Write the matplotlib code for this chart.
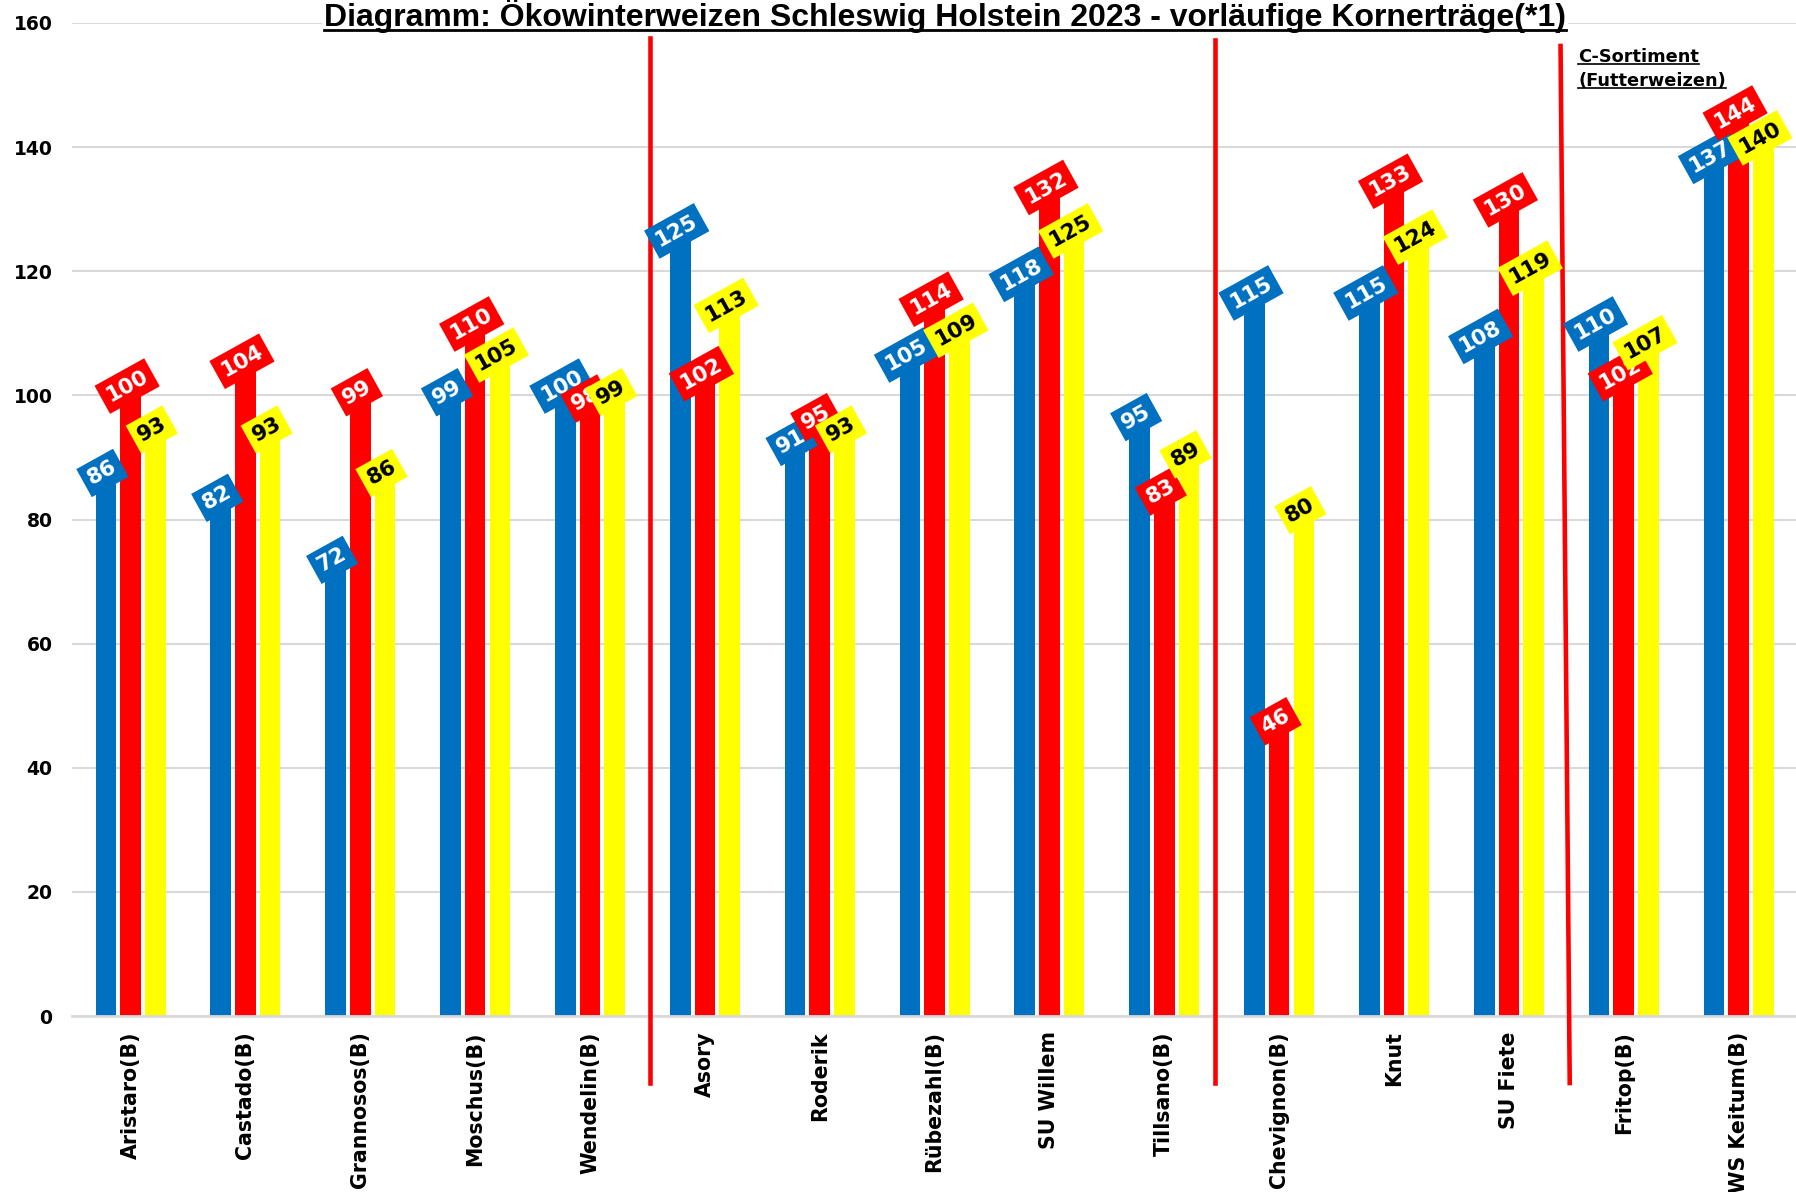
"""Öko-Winterweizen Schleswig-Holstein 2023: vorläufige Kornerträge als Gruppenbalken."""

import matplotlib

matplotlib.use("Agg")
import matplotlib.pyplot as plt
import numpy as np
from matplotlib.lines import Line2D

SORTEN = [
    "Aristaro(B)",
    "Castado(B)",
    "Grannosos(B)",
    "Moschus(B)",
    "Wendelin(B)",
    "Asory",
    "Roderik",
    "Rübezahl(B)",
    "SU Willem",
    "Tillsano(B)",
    "Chevignon(B)",
    "Knut",
    "SU Fiete",
    "Fritop(B)",
    "KWS Keitum(B)",
]
ERTRAG_BLAU = [86, 82, 72, 99, 100, 125, 91, 105, 118, 95, 115, 115, 108, 110, 137]
ERTRAG_ROT = [100, 104, 99, 110, 98, 102, 95, 114, 132, 83, 46, 133, 130, 102, 144]
ERTRAG_GELB = [93, 93, 86, 105, 99, 113, 93, 109, 125, 89, 80, 124, 119, 107, 140]
GRUPPEN_GRENZEN = [4, 9, 12]  # Trennlinie nach diesem Index
Y_TICKS = [0, 20, 40, 60, 80, 100, 120, 140, 160]

TITEL = "Diagramm: Ökowinterweizen Schleswig Holstein 2023 - vorläufige Kornerträge(*1)"
HINWEIS = ["C-Sortiment", "(Futterweizen)"]

BLAU = "#0070C0"
ROT = "#FF0000"
GELB = "#FFFF00"
GRID_COLOR = "#D9D9D9"
FONT = "DejaVu Sans"
BAR_WIDTH = 0.18
BAR_STEP = 0.215
LABEL_ANGLE = 29
# hand-drawn separators are slightly off-centre / tilted in the original
LINIEN_VERSATZ = [(0.02, 0.02, 157.6), (-0.06, -0.06, 157.2), (-0.05, 0.03, 156.3)]

fig = plt.figure(figsize=(17.96, 11.92), dpi=100)
ax = fig.add_axes([72 / 1796, 1 - 1016 / 1192, 1 - 72 / 1796, (1016 - 23) / 1192])

x = np.arange(len(SORTEN))
serien = [
    (ERTRAG_BLAU, BLAU, "white", -BAR_STEP),
    (ERTRAG_ROT, ROT, "white", 0.0),
    (ERTRAG_GELB, GELB, "black", BAR_STEP),
]
for z, (werte, farbe, textfarbe, offset) in enumerate(serien):
    ax.bar(x + offset, werte, width=BAR_WIDTH, color=farbe, zorder=2)
    for xi, wert in zip(x + offset, werte):
        ax.text(
            xi - 0.03,
            wert + 1.5,
            str(wert),
            rotation=LABEL_ANGLE,
            rotation_mode="anchor",
            ha="center",
            va="center",
            color=textfarbe,
            fontsize=15.5,
            fontweight="bold",
            family=FONT,
            zorder=5 + z,
            bbox=dict(boxstyle="square,pad=0.28", facecolor=farbe, edgecolor="none"),
        )

for grenze, (dx_oben, dx_unten, y_oben) in zip(GRUPPEN_GRENZEN, LINIEN_VERSATZ):
    ax.add_line(
        Line2D(
            [grenze + 0.5 + dx_oben, grenze + 0.5 + dx_unten],
            [y_oben, -10.8],
            color=ROT,
            linewidth=3.3,
            clip_on=False,
            zorder=4,
        )
    )

ax.set_xlim(-0.51, len(SORTEN) - 0.5)
ax.set_ylim(0, 160)
ax.set_yticks(Y_TICKS)
ax.set_xticks(x)
ax.set_xticklabels(SORTEN, rotation=90, va="top", ha="center")
for lab in ax.get_xticklabels() + ax.get_yticklabels():
    lab.set_fontweight("bold")
    lab.set_family(FONT)
for lab in ax.get_xticklabels():
    lab.set_fontsize(14.8)
for lab in ax.get_yticklabels():
    lab.set_fontsize(13.5)
ax.tick_params(axis="both", length=0)
ax.tick_params(axis="y", pad=14)
ax.tick_params(axis="x", pad=11)
ax.grid(axis="y", color=GRID_COLOR, linewidth=1.5, zorder=0)
ax.set_axisbelow(True)
for name in ["top", "right", "left"]:
    ax.spines[name].set_visible(False)
ax.spines["bottom"].set_color(GRID_COLOR)
ax.spines["bottom"].set_linewidth(2)

titel = fig.text(
    945 / 1796,
    1 - 16 / 1192,
    TITEL,
    ha="center",
    va="center",
    fontsize=23,
    fontweight="bold",
    family="Liberation Sans",
    zorder=10,
    bbox=dict(boxstyle="square,pad=0.05", facecolor="white", edgecolor="none"),
)
hinweise = [
    fig.text(
        1578 / 1796,
        1 - y_px / 1192,
        zeile,
        ha="left",
        va="center",
        fontsize=12.8,
        fontweight="bold",
        family=FONT,
    )
    for zeile, y_px in zip(HINWEIS, [57, 81])
]


def unterstreichen(text, lw):
    renderer = fig.canvas.get_renderer()
    bb = text.get_window_extent(renderer).transformed(fig.transFigure.inverted())
    y = bb.y0 + 0.1 * bb.height
    fig.add_artist(
        Line2D([bb.x0, bb.x1], [y, y], color="black", linewidth=lw, zorder=11)
    )


unterstreichen(titel, 2.0)
for h in hinweise:
    unterstreichen(h, 1.2)

fig.savefig("out.png", dpi=100)
